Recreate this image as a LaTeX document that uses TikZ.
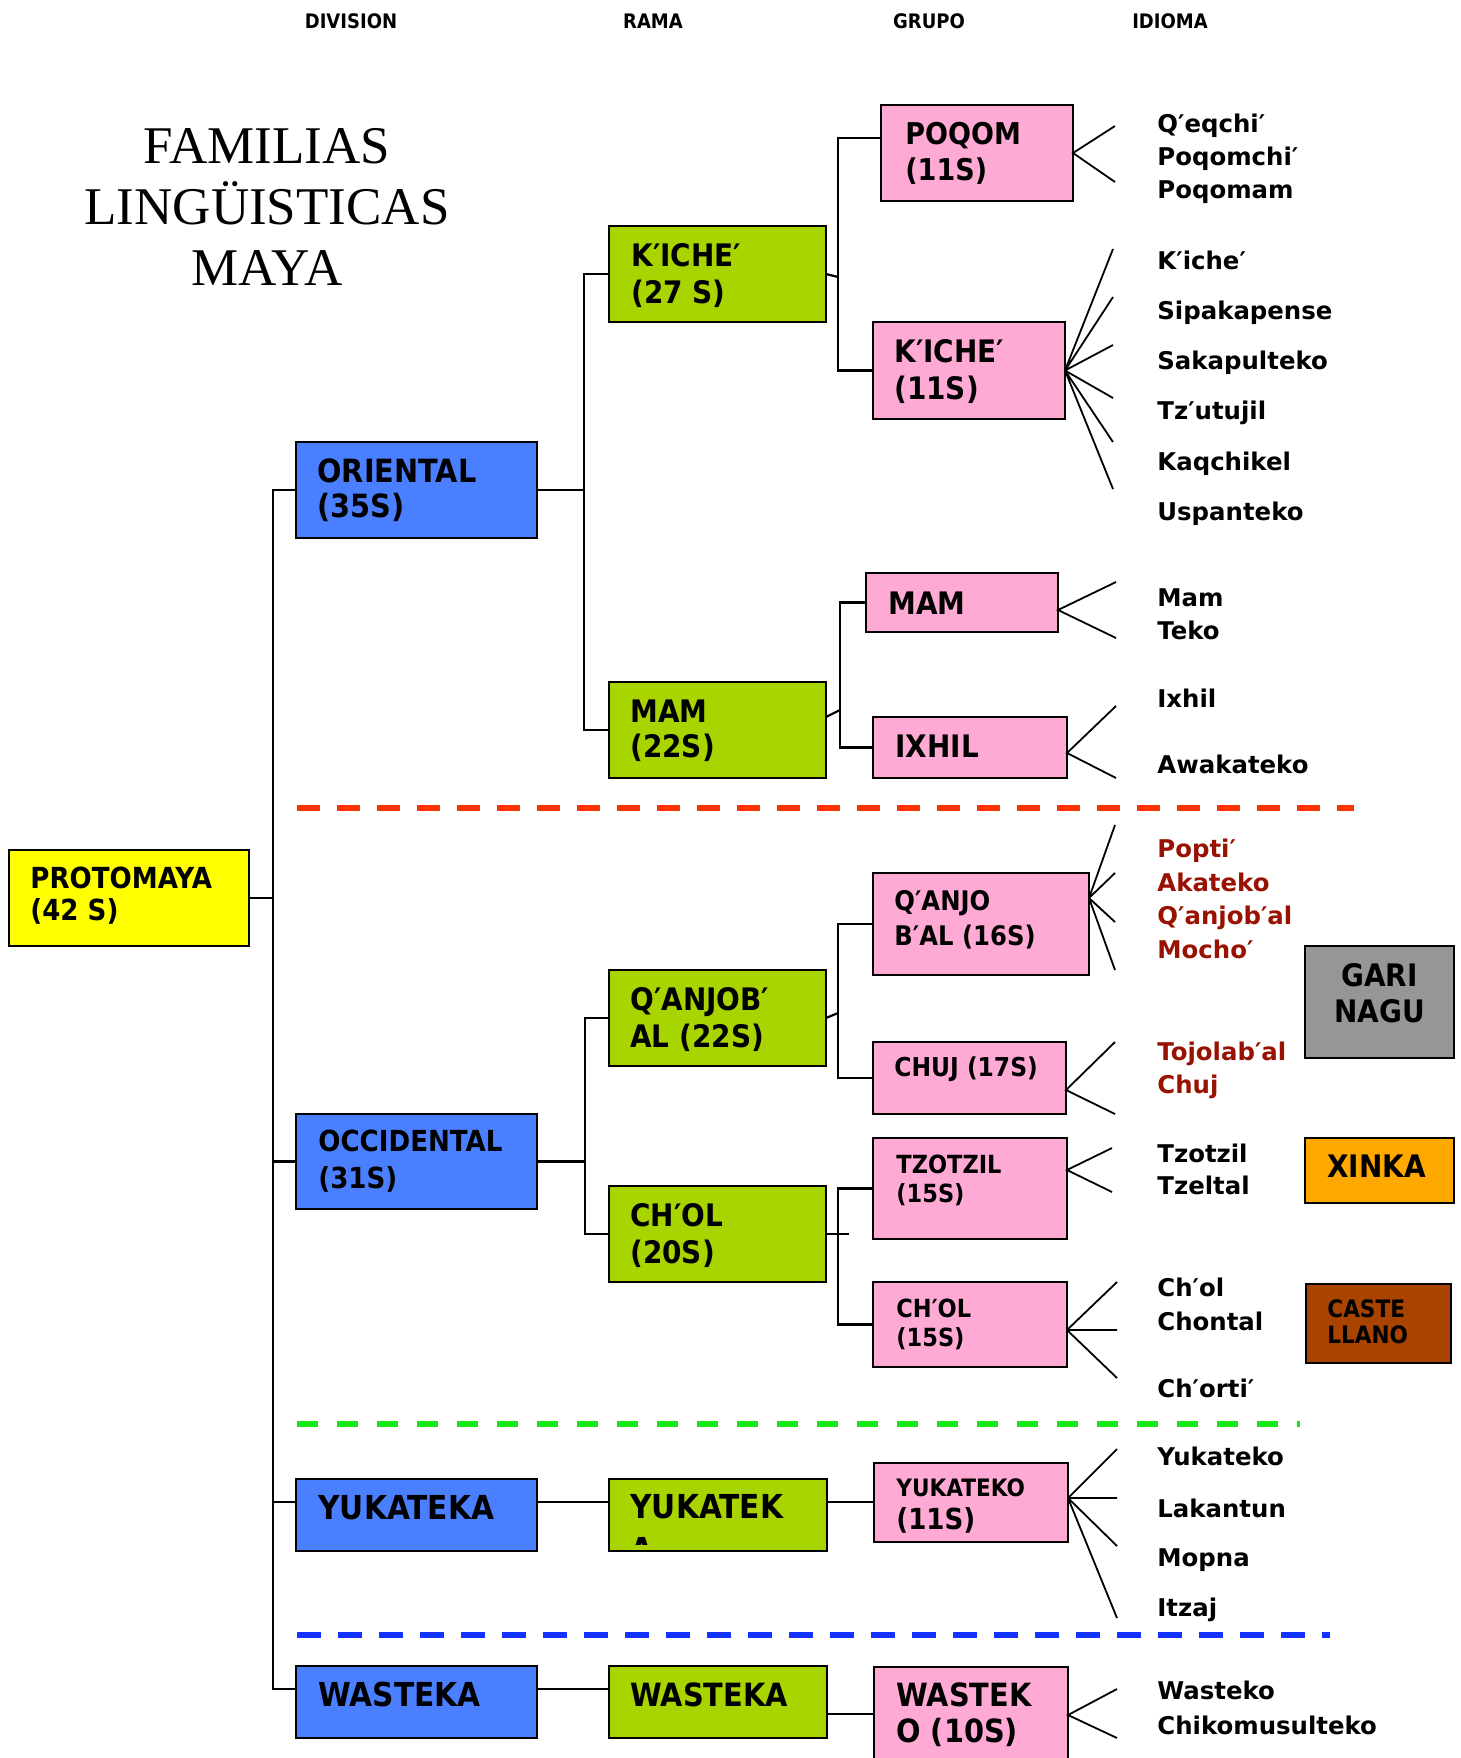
\documentclass[tikz,border=0pt]{standalone}
\usepackage{fontspec}
\newfontfamily\bfnt{DejaVu Sans}[FakeStretch=0.9]
\newfontfamily\lfnt{DejaVu Sans}
\newfontfamily\tfnt{Liberation Serif}
\definecolor{blueF}{RGB}{74,128,255}
\definecolor{greenF}{RGB}{168,212,0}
\definecolor{pinkF}{RGB}{255,170,212}
\definecolor{yellowF}{RGB}{255,255,0}
\definecolor{grayF}{RGB}{150,150,150}
\definecolor{orangeF}{RGB}{255,168,0}
\definecolor{brownF}{RGB}{168,68,0}
\definecolor{darkredT}{RGB}{153,17,0}
\definecolor{dashR}{RGB}{255,51,0}
\definecolor{dashG}{RGB}{20,235,20}
\definecolor{dashB}{RGB}{20,50,255}
\newcommand\bt[3]{\parbox[t]{10cm}{\raggedright\fontsize{#1}{#2}\selectfont\bfnt\bfseries #3}}
\newcommand\bx[6]{\node[bxs,fill=#2,minimum width={(#5-#3)*0.5pt},minimum height={(#6-#4)*0.5pt}] (#1) at ({(#3+#5)/2},{(#4+#6)/2}) {};}
\begin{document}
\begin{tikzpicture}[x=0.5pt,y=-0.5pt,
  bxs/.style={rectangle,draw=black,line width=1.3pt,inner sep=0pt,outer sep=0pt},
  tx/.style={anchor=base west,inner sep=0pt},
  hdr/.style={anchor=base,inner sep=0pt,font=\bfnt\bfseries\fontsize{10}{12}\selectfont},
  lang/.style={anchor=base west,inner sep=0pt,font=\lfnt\bfseries\fontsize{12.2}{14}\selectfont},
  langr/.style={lang,text=darkredT},
  ln/.style={line width=1.1pt,black},
  fan/.style={line width=0.9pt,black},
  dashr/.style={draw=dashR,line width=3pt,dash pattern=on 11.5pt off 8.5pt},
  dashg/.style={draw=dashG,line width=2.6pt,dash pattern=on 10.5pt off 9.5pt},
  dashb/.style={draw=dashB,line width=2.8pt,dash pattern=on 12pt off 8.5pt}]
\useasboundingbox (0,0) rectangle (1461,1758);
\fill[white] (0,0) rectangle (1461,1758);
% headers
\node[hdr] (h1) at (351,28) {DIVISION};
\node[hdr] (h2) at (653,28) {RAMA};
\node[hdr] (h3) at (929,28) {GRUPO};
\node[hdr] (h4) at (1170,28) {IDIOMA};
% title
\node[anchor=base,inner sep=0pt] (title) at (267,163) {\parbox[t]{12cm}{\centering\fontsize{26.5}{30.5}\selectfont\tfnt FAMILIAS\\LINGÜISTICAS\\MAYA}};
% dashed separators
\draw[dashr] (297,808) -- (1354,808);
\draw[dashg] (297,1424) -- (1300,1424);
\draw[dashb] (297,1635) -- (1330,1635);
% boxes
\bx{pm}{yellowF}{9}{850}{249}{946}
\bx{or}{blueF}{296}{442}{537}{538}
\bx{oc}{blueF}{296}{1114}{537}{1209}
\bx{yk}{blueF}{296}{1479}{537}{1551}
\bx{wa}{blueF}{296}{1666}{537}{1738}
\bx{kg}{greenF}{609}{226}{826}{322}
\bx{mg}{greenF}{609}{682}{826}{778}
\bx{qg}{greenF}{609}{970}{826}{1066}
\bx{cg}{greenF}{609}{1186}{826}{1282}
\bx{ykg}{greenF}{609}{1479}{827}{1551}
\bx{wag}{greenF}{609}{1666}{827}{1738}
\bx{poq}{pinkF}{881}{105}{1073}{201}
\bx{kp}{pinkF}{873}{322}{1065}{419}
\bx{mp}{pinkF}{866}{573}{1058}{632}
\bx{ix}{pinkF}{873}{717}{1067}{778}
\bx{qa}{pinkF}{873}{873}{1089}{975}
\bx{ch}{pinkF}{873}{1042}{1066}{1114}
\bx{tz}{pinkF}{873}{1138}{1067}{1239}
\bx{chp}{pinkF}{873}{1282}{1067}{1367}
\bx{ykp}{pinkF}{874}{1463}{1068}{1542}
\bx{wap}{pinkF}{874}{1667}{1068}{1772}
\bx{gar}{grayF}{1305}{946}{1454}{1058}
\bx{xin}{orangeF}{1305}{1138}{1454}{1203}
\bx{cas}{brownF}{1306}{1284}{1451}{1363}
% box texts
\node[tx] (t-pm) at (30,888) {\bt{14.5}{16}{PROTOMAYA\\(42 S)}};
\node[tx] (t-or) at (317,482) {\bt{16}{17.5}{ORIENTAL\\(35S)}};
\node[tx] (t-oc) at (318,1151) {\bt{14.5}{18.5}{OCCIDENTAL\\(31S)}};
\node[tx] (t-yk) at (318,1519) {\bt{16.5}{18}{YUKATEKA}};
\node[tx] (t-wa) at (318,1706) {\bt{16.5}{18}{WASTEKA}};
\node[tx] (t-kg) at (631,266) {\bt{15.5}{18.5}{K′ICHE′\\(27 S)}};
\node[tx] (t-mg) at (630,722) {\bt{15.5}{17.5}{MAM\\(22S)}};
\node[tx] (t-qg) at (630,1010) {\bt{15.5}{18.5}{Q′ANJOB′\\AL (22S)}};
\node[tx] (t-cg) at (630,1226) {\bt{15.5}{18.5}{CH′OL\\(20S)}};
\node[tx] (t-ykg) at (630,1518) {\bt{16.5}{18}{YUKATEK}};
\begin{scope}
\clip (609,1479) rectangle (827,1544);
\node[tx] (t-ykg2) at (630,1561) {\bt{16.5}{18}{A}};
\end{scope}
\node[tx] (t-wag) at (630,1706) {\bt{16}{18}{WASTEKA}};
\node[tx] (t-poq) at (905,144) {\bt{15}{18}{POQOM\\(11S)}};
\node[tx] (t-kp) at (894,362) {\bt{15.5}{18.5}{K′ICHE′\\(11S)}};
\node[tx] (t-mp) at (888,614) {\bt{15.5}{18}{MAM}};
\node[tx] (t-ix) at (895,757) {\bt{15.5}{18}{IXHIL}};
\node[tx] (t-qa) at (894,910) {\bt{13.5}{17.5}{Q′ANJO\\B′AL (16S)}};
\node[tx] (t-ch) at (894,1076) {\bt{13}{15}{CHUJ (17S)}};
\node[tx] (t-tz) at (896,1173) {\bt{12.5}{14.5}{TZOTZIL\\(15S)}};
\node[tx] (t-chp) at (896,1317) {\bt{12.5}{14.5}{CH′OL\\(15S)}};
\node[tx] (t-ykp) at (896,1496) {\bt{12}{14}{YUKATEKO}};
\node[tx] (t-ykp2) at (896,1529) {\bt{14.5}{16}{(11S)}};
\node[tx] (t-wap) at (896,1706) {\bt{16}{18}{WASTEK\\O (10S)}};
\node[anchor=base,inner sep=0pt] (t-gar) at (1379.5,986) {\parbox[t]{70pt}{\centering\fontsize{15.5}{18}\selectfont\bfnt\bfseries GARI\\NAGU}};
\node[tx] (t-xin) at (1327,1177) {\bt{15.5}{18}{XINKA}};
\node[tx] (t-cas) at (1327,1317) {\bt{12}{13}{CASTE\\LLANO}};
% languages
\node[lang] (l1) at (1157,132) {Q′eqchi′};
\node[lang] (l2) at (1157,165) {Poqomchi′};
\node[lang] (l3) at (1157,198) {Poqomam};
\node[lang] (l4) at (1157,269) {K′iche′};
\node[lang] (l5) at (1157,319) {Sipakapense};
\node[lang] (l6) at (1157,369) {Sakapulteko};
\node[lang] (l7) at (1157,419) {Tz′utujil};
\node[lang] (l8) at (1157,470) {Kaqchikel};
\node[lang] (l9) at (1157,520) {Uspanteko};
\node[lang] (l10) at (1157,606) {Mam};
\node[lang] (l11) at (1157,639) {Teko};
\node[lang] (l12) at (1157,707) {Ixhil};
\node[lang] (l13) at (1157,773) {Awakateko};
\node[langr] (l14) at (1157,857) {Popti′};
\node[langr] (l15) at (1157,891) {Akateko};
\node[langr] (l16) at (1157,924) {Q′anjob′al};
\node[langr] (l17) at (1157,958) {Mocho′};
\node[langr] (l18) at (1157,1060) {Tojolab′al};
\node[langr] (l19) at (1157,1093) {Chuj};
\node[lang] (l20) at (1157,1162) {Tzotzil};
\node[lang] (l21) at (1157,1194) {Tzeltal};
\node[lang] (l22) at (1157,1296) {Ch′ol};
\node[lang] (l23) at (1157,1330) {Chontal};
\node[lang] (l24) at (1157,1397) {Ch′orti′};
\node[lang] (l25) at (1157,1465) {Yukateko};
\node[lang] (l26) at (1157,1517) {Lakantun};
\node[lang] (l27) at (1157,1566) {Mopna};
\node[lang] (l28) at (1157,1616) {Itzaj};
\node[lang] (l29) at (1157,1699) {Wasteko};
\node[lang] (l30) at (1157,1734) {Chikomusulteko};
% tree connectors
\coordinate (T1) at (273,490);
\coordinate (T2) at (273,1689);
\coordinate (Y1) at (273,1502);
\draw[ln] (or.west) -- (T1) -- (T2) -- (wa.west |- T2);
\draw[ln] (pm.east) -- (pm.east -| T1);
\draw[ln] (oc.west) -- (oc.west -| T1);
\draw[ln] (Y1) -- (yk.west |- Y1);
\draw[ln] (yk.east |- Y1) -- (ykg.west |- Y1);
\draw[ln] (ykg.east |- Y1) -- (ykp.west |- Y1);
\draw[ln] (wa.east |- T2) -- (wag.west |- T2);
\coordinate (W2) at (840,1714);
\draw[ln] (wag.east |- W2) -- (wap.west |- W2);
\coordinate (R1) at (584,730);
\draw[ln] (or.east) -- (or.east -| R1);
\draw[ln] (kg.west) -| (R1) -- (mg.west);
\coordinate (R2) at (585,1234);
\draw[ln] (oc.east) -- (oc.east -| R2);
\draw[ln] (qg.west) -| (R2) -- (cg.west);
\coordinate (K0) at (838,277);
\coordinate (K1) at (838,138);
\draw[ln] (kg.east) -- (K0);
\draw[ln] (poq.west |- K1) -- (K1) -- (K1 |- kp.west) -- (kp.west);
\coordinate (M0) at (840,710);
\draw[ln] ([yshift=6.5pt]mg.east) -- (M0);
\draw[ln] (mp.west) -- (mp.west -| M0) -- (ix.west -| M0) -- (ix.west);
\coordinate (Q0) at (838,1013);
\draw[ln] (qg.east) -- (Q0);
\draw[ln] (qa.west) -- (qa.west -| Q0) -- (ch.west -| Q0) -- (ch.west);
\coordinate (C0) at (849,1234);
\coordinate (C1) at (838,1234);
\draw[ln] (cg.east) -- (C0);
\draw[ln] (tz.west) -- (tz.west -| C1) -- (chp.west -| C1) -- (chp.west);
% fan apexes
\coordinate (a1) at (poq.east);
\coordinate (a2) at (kp.east);
\coordinate (a3) at ([yshift=-3.75pt]mp.east);
\coordinate (a4) at ([yshift=-2.75pt]ix.east);
\coordinate (a5) at ([yshift=13pt]qa.east);
\coordinate (a6) at ([yshift=-6pt]ch.east);
\coordinate (a7) at ([yshift=9.25pt]tz.east);
\coordinate (a8) at ([yshift=-2.75pt]chp.east);
\coordinate (a9) at ([yshift=2.25pt]ykp.east);
\coordinate (a10) at ([yshift=2.25pt]wap.east);
% fan ends
\coordinate (e1a) at (1115,126); \coordinate (e1b) at (1115,182);
\coordinate (e2a) at (1113,249); \coordinate (e2b) at (1113,297);
\coordinate (e2c) at (1113,345); \coordinate (e2d) at (1113,398);
\coordinate (e2e) at (1113,442); \coordinate (e2f) at (1113,489);
\coordinate (e3a) at (1116,582); \coordinate (e3b) at (1116,638);
\coordinate (e4a) at (1116,706); \coordinate (e4b) at (1116,778);
\coordinate (e5a) at (1115,825); \coordinate (e5b) at (1115,873);
\coordinate (e5c) at (1115,922); \coordinate (e5d) at (1115,970);
\coordinate (e6a) at (1115,1042); \coordinate (e6b) at (1115,1114);
\coordinate (e7a) at (1112,1148); \coordinate (e7b) at (1112,1192);
\coordinate (e8a) at (1117,1282); \coordinate (e8b) at (1117,1330); \coordinate (e8c) at (1117,1378);
\coordinate (e9a) at (1117,1449); \coordinate (e9b) at (1117,1498);
\coordinate (e9c) at (1117,1546); \coordinate (e9d) at (1117,1618);
\coordinate (e10a) at (1117,1689); \coordinate (e10b) at (1117,1738);
\draw[fan] (e1a) -- (a1) -- (e1b);
\draw[fan] (a2) -- (e2a) (a2) -- (e2b) (a2) -- (e2c) (a2) -- (e2d) (a2) -- (e2e) (a2) -- (e2f);
\draw[fan] (e3a) -- (a3) -- (e3b);
\draw[fan] (e4a) -- (a4) -- (e4b);
\draw[fan] (a5) -- (e5a) (a5) -- (e5b) (a5) -- (e5c) (a5) -- (e5d);
\draw[fan] (e6a) -- (a6) -- (e6b);
\draw[fan] (e7a) -- (a7) -- (e7b);
\draw[fan] (a8) -- (e8a) (a8) -- (e8b) (a8) -- (e8c);
\draw[fan] (a9) -- (e9a) (a9) -- (e9b) (a9) -- (e9c) (a9) -- (e9d);
\draw[fan] (e10a) -- (a10) -- (e10b);
\end{tikzpicture}
\end{document}
